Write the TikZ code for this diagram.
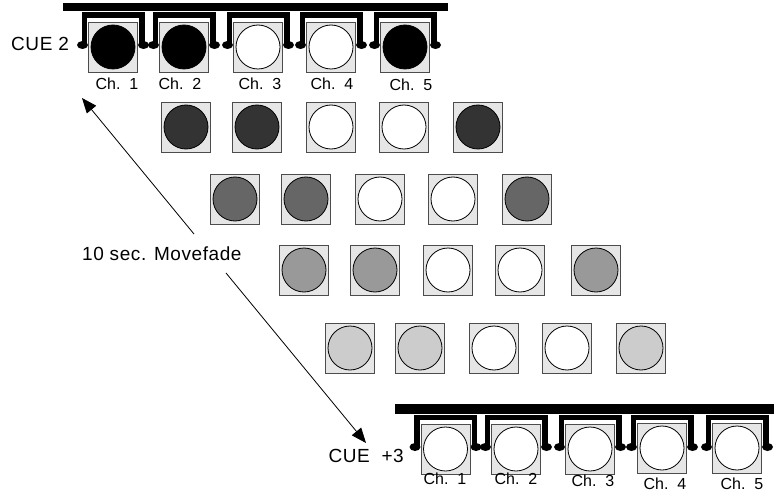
\documentclass[tikz,border=0pt]{standalone}
\usepackage{fontspec}
\setmainfont{Liberation Sans}
\usetikzlibrary{arrows.meta}
\definecolor{boxgrey}{HTML}{E6E6E6}
\definecolor{lvlA}{HTML}{000000}
\definecolor{lvlB}{HTML}{333333}
\definecolor{lvlC}{HTML}{666666}
\definecolor{lvlD}{HTML}{999999}
\definecolor{lvlE}{HTML}{CCCCCC}
\newcommand\lampunit[4]{%
  \node[lampbox] (#1) at (#2,#3) {};
  \node[lampdisc,fill=#4] (#1d) at (#1.center) {};}
\newcommand\yokeunit[3]{%
  \fill (#1-31.5,#2) rectangle (#1+31.5,#2+5.5);
  \fill (#1-31.5,#2) rectangle (#1-26,#3);
  \fill (#1+26,#2) rectangle (#1+31.5,#3);
  \fill (#1-30.5,#3) ellipse [x radius=5.5pt, y radius=4pt];
  \fill (#1+30.5,#3) ellipse [x radius=5.5pt, y radius=4pt];}
\begin{document}
\begin{tikzpicture}[x=1pt,y=-1pt,
  lampbox/.style={draw=black!70,line width=0.9pt,fill=boxgrey,minimum width=49pt,minimum height=50pt,inner sep=0pt},
  lampdisc/.style={circle,draw=black,line width=0.8pt,minimum size=44pt,inner sep=0pt},
  chlabel/.style={font=\fontsize{16}{18}\selectfont,inner sep=0pt},
  biglabel/.style={font=\fontsize{19}{22}\selectfont\addfontfeature{LetterSpace=3},inner sep=0pt},
  mvarrow/.style={draw=black,line width=0.8pt,-{Triangle[length=15pt,width=12pt]}}]
\useasboundingbox (0,0) rectangle (774,500);
% top bar and yokes
\fill (63,3) rectangle (448,11.5);
\foreach \cx in {113,184,258,331,405}{\yokeunit{\cx}{12.5}{45}}
\lampunit{t1}{113}{47}{lvlA}
\lampunit{t2}{184}{47}{lvlA}
\lampunit{t3}{258}{47}{white}
\lampunit{t4}{331}{47}{white}
\lampunit{t5}{405}{47}{lvlA}
\node[chlabel] (tl1) at (117,84) {Ch.\ \ 1};
\node[chlabel] (tl2) at (180,84) {Ch.\ \ 2};
\node[chlabel] (tl3) at (260,84) {Ch.\ \ 3};
\node[chlabel] (tl4) at (332,84) {Ch.\ \ 4};
\node[chlabel] (tl5) at (411,85) {Ch.\ \ 5};
\node[biglabel,anchor=west] (cue2) at (11,44) {CUE 2};
% fade steps
\lampunit{b1}{186}{127}{lvlB}
\lampunit{b2}{257}{127}{lvlB}
\lampunit{b3}{331}{127}{white}
\lampunit{b4}{404}{127}{white}
\lampunit{b5}{478}{127}{lvlB}
\lampunit{c1}{235}{199}{lvlC}
\lampunit{c2}{306}{199}{lvlC}
\lampunit{c3}{380}{199}{white}
\lampunit{c4}{453}{199}{white}
\lampunit{c5}{527}{199}{lvlC}
\lampunit{d1}{304}{270}{lvlD}
\lampunit{d2}{375}{270}{lvlD}
\lampunit{d3}{448}{270}{white}
\lampunit{d4}{520}{270}{white}
\lampunit{d5}{596}{270}{lvlD}
\lampunit{e1}{350}{348}{lvlE}
\lampunit{e2}{420}{348}{lvlE}
\lampunit{e3}{494}{348}{white}
\lampunit{e4}{567}{348}{white}
\lampunit{e5}{641}{348}{lvlE}
% bottom bar and yokes
\fill (395,404) rectangle (774,413.5);
\foreach \cx in {445.5,516,590,662,737}{\yokeunit{\cx}{414.5}{447}}
\lampunit{f1}{445.5}{449}{white}
\lampunit{f2}{516}{449}{white}
\lampunit{f3}{590}{449}{white}
\lampunit{f4}{662}{448}{white}
\lampunit{f5}{737}{448}{white}
\node[chlabel] (fl1) at (445,478.5) {Ch.\ \ 1};
\node[chlabel] (fl2) at (516,478.5) {Ch.\ \ 2};
\node[chlabel] (fl3) at (593,481) {Ch.\ \ 3};
\node[chlabel] (fl4) at (665,483.5) {Ch.\ \ 4};
\node[chlabel] (fl5) at (742,483.5) {Ch.\ \ 5};
\node[biglabel,anchor=east] (cue3) at (404,456) {CUE\ \ +3};
% movefade label and arrows
\node[biglabel,anchor=west] (mf) at (82,254) {10 sec. Movefade};
\coordinate (mfup) at (194,234);
\coordinate (mfdown) at (226,273);
\coordinate (tipup) at (82,98);
\coordinate (tipdown) at (366,443);
\draw[mvarrow] (mfup) -- (tipup);
\draw[mvarrow] (mfdown) -- (tipdown);
\end{tikzpicture}
\end{document}
